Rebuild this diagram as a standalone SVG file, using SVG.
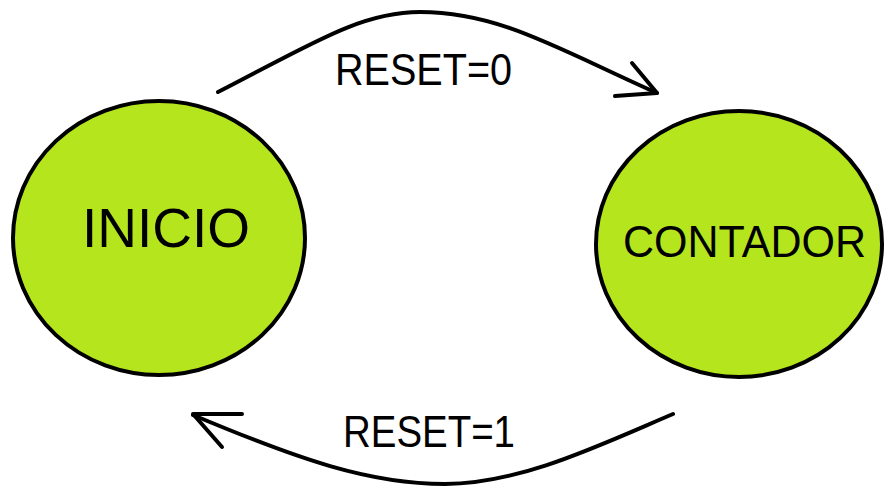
<svg xmlns="http://www.w3.org/2000/svg" width="884" height="488" viewBox="0 0 884 488">
<style>
.node{fill:#b5e61d;stroke:#000;stroke-width:4}
.lbl{font-family:"Liberation Sans",Arial,sans-serif;fill:#000}
.edge{fill:none;stroke:#000;stroke-width:4;stroke-linecap:round;stroke-linejoin:round}
</style>
<rect width="884" height="488" fill="#fff"/>
<g id="inicio">
<ellipse class="node" cx="159" cy="238" rx="146" ry="137"/>
<text class="lbl" x="82" y="247" font-size="55" textLength="168" lengthAdjust="spacingAndGlyphs">INICIO</text>
</g>
<g id="contador">
<ellipse class="node" cx="739" cy="244" rx="143" ry="133"/>
<text class="lbl" x="623" y="257" font-size="44" textLength="243" lengthAdjust="spacingAndGlyphs">CONTADOR</text>
</g>
<g id="connectors">
<g id="e1">
<path class="edge" d="M218,92 C310,45 360,12 420,12 C500,12 560,50 657,93"/>
<path class="edge" d="M632,63 L657,93 L615,96"/>
<text class="lbl" x="335" y="85" font-size="44" textLength="177" lengthAdjust="spacingAndGlyphs">RESET=0</text>
</g>
<g id="e2">
<path class="edge" d="M673,414 C600,445 520,484 445,484 C370,484 300,460 193,415"/>
<path class="edge" d="M242,414 L193,414 L222,447"/>
<text class="lbl" x="343" y="447" font-size="44" textLength="172" lengthAdjust="spacingAndGlyphs">RESET=1</text>
</g>
</g>
</svg>
